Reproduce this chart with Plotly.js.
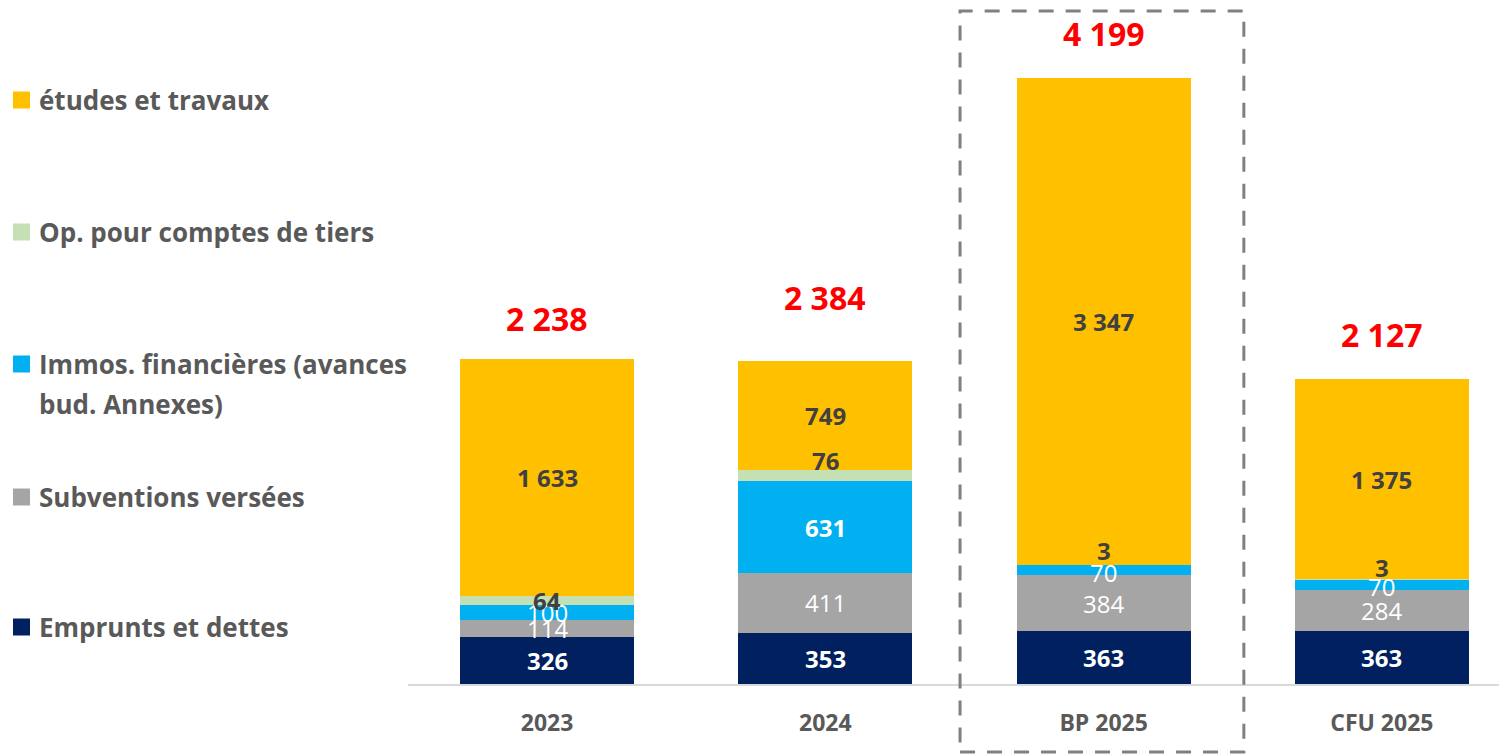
<!DOCTYPE html>
<html>
<head>
<meta charset="utf-8">
<script src="https://cdn.plot.ly/plotly-3.0.1.min.js"></script>
<style>html,body{margin:0;padding:0;background:#fff;}#chart{width:1499px;height:754px;}</style>
</head>
<body>
<div id="chart"></div>
<script>
const categories = ['2023', '2024', 'BP 2025', 'CFU 2025'];
const emprunts = [326, 353, 363, 363];
const subventions = [114, 411, 384, 284];
const immos = [100, 631, 70, 70];
const opTiers = [64, 76, 3, 3];
const etudes = [1633, 749, 3347, 1375];
const totals = [2238, 2384, 4199, 2127];

const seriesNames = ['Emprunts et dettes', 'Subventions versées', 'Immos. financières (avances bud. Annexes)', 'Op. pour comptes de tiers', 'études et travaux'];
const seriesValues = [emprunts, subventions, immos, opTiers, etudes];
const seriesColors = ['#002060', '#A5A5A5', '#00B0F0', '#C5E0B4', '#FFC000'];
const labelColors = ['#FFFFFF', '#FFFFFF', '#FFFFFF', '#404040', '#404040'];
const labelWeights = [[700,700,700,700],[400,400,400,400],[400,700,400,400],[700,700,700,700],[700,700,700,700]];
const labelShift = [[0,0,0,0],[0,0,0,0],[0,0,-2,-2],[0,15,14,12],[0,0,0,0]];

const FONT = 'Open Sans, Lato, Liberation Sans, sans-serif';
function fmt(v){ return String(v).replace(/\B(?=(\d{3})+(?!\d))/g, ' '); }

const traces = seriesValues.map((vals, i) => ({
  type: 'bar', x: categories, y: vals, name: seriesNames[i],
  marker: {color: seriesColors[i], line: {width: 0}},
  hoverinfo: 'skip', showlegend: false
}));

const L = 408, R = 0, T = 14, B = 70, W = 1499, H = 754;
const pw = W - L - R, ph = H - T - B;
const px2paperX = px => (px - L) / pw;
const py2paperY = py => (H - B - py) / ph;

const annotations = [];
const cum = categories.map(() => 0);
seriesValues.forEach((vals, i) => {
  vals.forEach((v, j) => {
    annotations.push({
      x: j, y: cum[j] + v / 2, xref: 'x', yref: 'y',
      text: fmt(v), showarrow: false, yshift: labelShift[i][j],
      font: {family: FONT, size: 24, color: labelColors[i], weight: labelWeights[i][j]}
    });
    cum[j] += v;
  });
});
totals.forEach((t, j) => {
  annotations.push({
    x: j, y: t, xref: 'x', yref: 'y', text: fmt(t), showarrow: false,
    yanchor: 'middle', yshift: 40,
    font: {family: FONT, size: 32, color: '#FF0000', weight: 700}
  });
});

// legend (manual, left side)
const legendItems = [
  {lines: ['études et travaux'], color: '#FFC000', y: 100},
  {lines: ['Op. pour comptes de tiers'], color: '#C5E0B4', y: 232},
  {lines: ['Immos. financières (avances', 'bud. Annexes)'], color: '#00B0F0', y: 364},
  {lines: ['Subventions versées'], color: '#A5A5A5', y: 497},
  {lines: ['Emprunts et dettes'], color: '#002060', y: 627}
];
const shapes = [];
legendItems.forEach(it => {
  shapes.push({type: 'rect', xref: 'paper', yref: 'paper',
    x0: px2paperX(13), x1: px2paperX(30), y0: py2paperY(it.y + 8.5), y1: py2paperY(it.y - 8.5),
    fillcolor: it.color, line: {width: 0}});
  it.lines.forEach((ln, k) => {
    annotations.push({xref: 'paper', yref: 'paper', x: px2paperX(37), y: py2paperY(it.y + k * 40),
      xanchor: 'left', yanchor: 'middle', text: ln, showarrow: false,
      font: {family: FONT, size: 26, color: '#595959', weight: 700}});
  });
});

// dashed highlight box around BP 2025
shapes.push({type: 'rect', xref: 'x', yref: 'paper', x0: 1.484, x1: 2.504,
  y0: py2paperY(752), y1: py2paperY(11), fillcolor: 'rgba(0,0,0,0)',
  line: {color: '#808080', width: 3, dash: '15px,12px'}});

const layout = {
  width: W, height: H, margin: {l: L, r: R, t: T, b: B, pad: 0},
  paper_bgcolor: '#FFFFFF', plot_bgcolor: '#FFFFFF',
  barmode: 'stack', bargap: 0.375,
  showlegend: false,
  xaxis: {type: 'category', range: [-0.5, 3.421], showline: true, linecolor: '#D9D9D9', linewidth: 2,
    ticks: '', showgrid: false, zeroline: false, ticklabelstandoff: 17,
    tickfont: {family: FONT, size: 23, color: '#595959', weight: 700}},
  yaxis: {range: [0, 4608], visible: false, showgrid: false, zeroline: false},
  annotations: annotations, shapes: shapes
};

Plotly.newPlot('chart', traces, layout, {staticPlot: true, displayModeBar: false});
</script>
</body>
</html>
